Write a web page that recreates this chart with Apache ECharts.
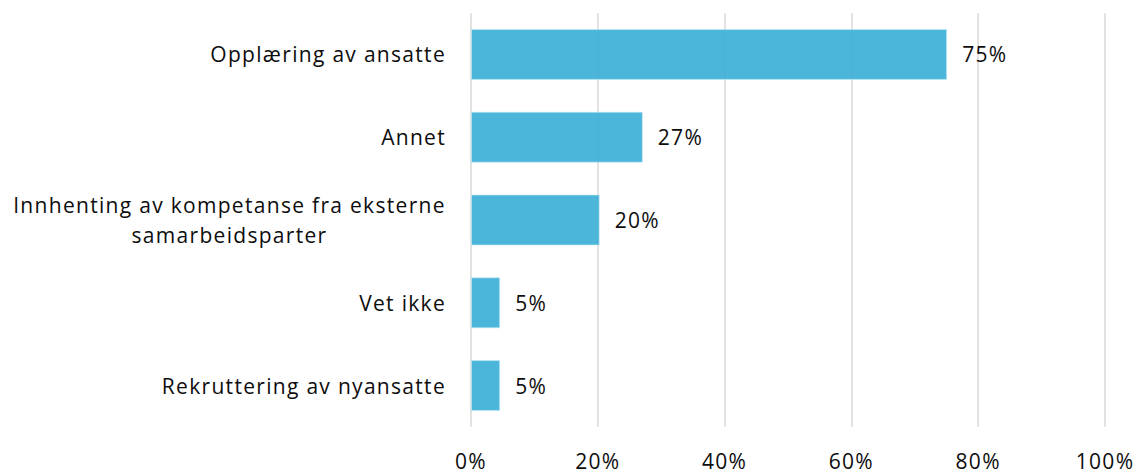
<!DOCTYPE html>
<html>
<head>
<meta charset="utf-8">
<script src="https://cdn.jsdelivr.net/npm/echarts@6/dist/echarts.min.js"></script>
<style>
html,body{margin:0;padding:0;background:#fff;}
#chart{width:1141px;height:474px;}
#chart text{letter-spacing:1.3px;}
</style>
</head>
<body>
<div id="chart"></div>
<script>
const categories = [
  "Opplæring av ansatte",
  "Annet",
  "Innhenting av kompetanse fra eksterne\nsamarbeidsparter",
  "Vet ikke",
  "Rekruttering av nyansatte"
];
const values = [75.1, 27.1, 20.3, 4.6, 4.6];
const tickValues = [0, 20, 40, 60, 80, 100];

const FONT = "Open Sans";
const FS = 21;
const TXT = '#0d0d0d';

const chart = echarts.init(document.getElementById('chart'), null, { renderer: 'svg' });
chart.setOption({
  animation: false,
  backgroundColor: '#fff',
  grid: { left: 471, right: 36, top: 13, bottom: 47, containLabel: false },
  xAxis: {
    type: 'value',
    min: tickValues[0],
    max: tickValues[tickValues.length - 1],
    interval: 20,
    axisLine: { show: false },
    axisTick: { show: false },
    splitLine: { show: true, lineStyle: { color: '#d9d9d9', width: 1.5 } },
    axisLabel: {
      margin: 25,
      color: TXT,
      fontFamily: FONT,
      fontSize: FS,
      lineHeight: 18,
      formatter: v => v + '%'
    }
  },
  yAxis: {
    type: 'category',
    inverse: true,
    data: categories,
    axisLine: { show: false },
    axisTick: { show: false },
    splitLine: { show: false },
    axisLabel: {
      margin: 25,
      color: TXT,
      fontFamily: FONT,
      fontSize: FS,
      lineHeight: 30,
      formatter: function (v) {
        if (v.indexOf('\n') >= 0) {
          return v.split('\n').map(p => '{w|' + p + '}').join('\n');
        }
        return v;
      },
      rich: {
        w: { width: 433, align: 'center', fontFamily: FONT, fontSize: FS, color: TXT, lineHeight: 30 }
      }
    }
  },
  series: [{
    type: 'bar',
    data: values,
    barWidth: 51,
    itemStyle: { color: 'rgba(60,175,215,0.92)', borderColor: 'rgba(200,235,248,0.6)', borderWidth: 1 },
    label: {
      show: true,
      position: 'right',
      distance: 15,
      color: TXT,
      fontFamily: FONT,
      fontSize: FS,
      formatter: p => Math.round(p.value) + '%'
    }
  }]
});
</script>
</body>
</html>
